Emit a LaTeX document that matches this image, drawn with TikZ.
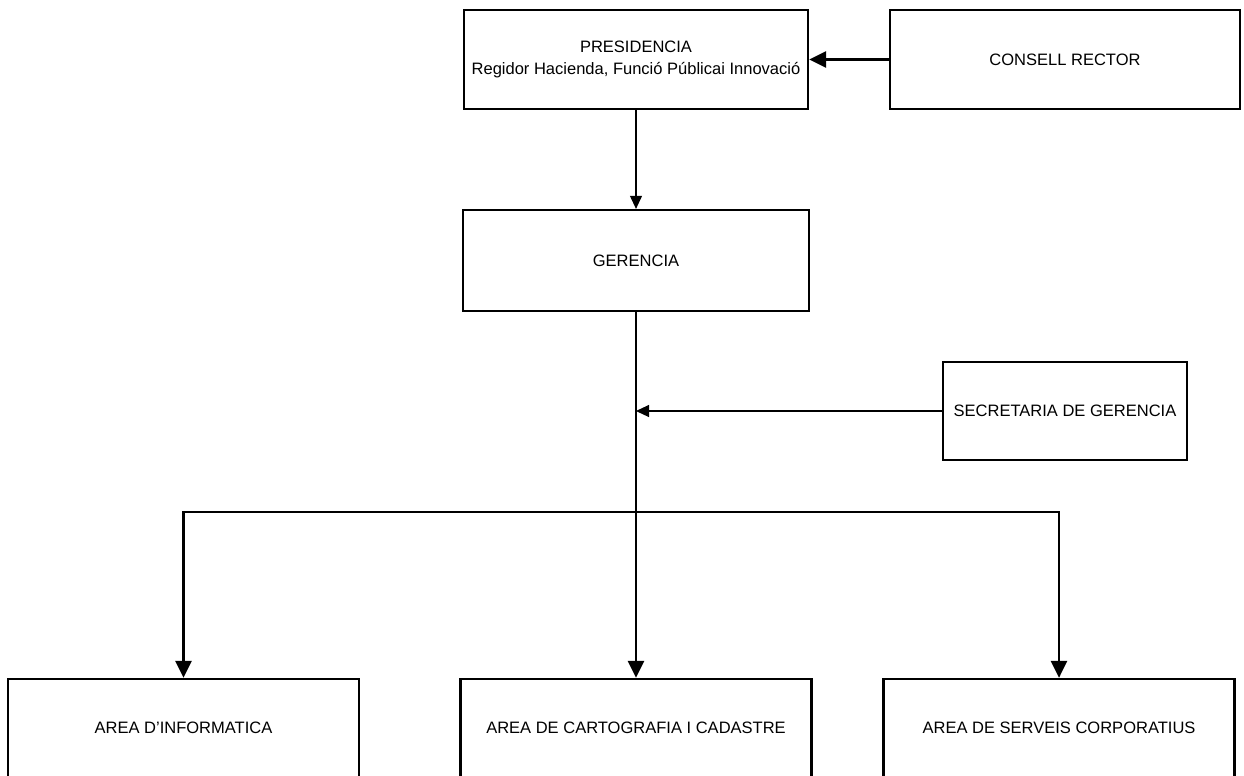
\documentclass[tikz,border=0pt]{standalone}
\usepackage{fontspec}
\setmainfont{Liberation Sans}
\usetikzlibrary{arrows.meta}
\tikzstyle{every node}=[font=\fontsize{9.4}{12.5}\selectfont]
\tikzstyle{box}=[draw, line width=1.3pt, align=center, inner sep=0pt]
\tikzstyle{heavy}=[line width=1.6pt, -{Triangle[length=0.34cm, width=0.32cm]}]
\tikzstyle{light}=[line width=0.6pt, -{Triangle[length=0.26cm, width=0.24cm]}]

\begin{document}
\begin{tikzpicture}[x=0.02cm, y=-0.02cm]
    \useasboundingbox (0,0) rectangle (1244,775);
% Boxes
    \node[box, minimum width=6.88cm, minimum height=1.98cm] (pres) at (636,59.5)
        {PRESIDENCIA\\Regidor Hacienda, Funció Públicai Innovació};
    \node[box, minimum width=7.0cm, minimum height=1.98cm] (consell) at (1065,59.5) {CONSELL RECTOR};
    \node[box, minimum width=6.92cm, minimum height=2.02cm] (ger) at (636,260.5) {GERENCIA};
    \node[box, minimum width=4.88cm, minimum height=1.96cm] (sec) at (1065,411) {SECRETARIA DE GERENCIA};
    \node[box, minimum width=7.02cm, minimum height=1.96cm] (info) at (183.5,728) {AREA D’INFORMATICA};
    \node[box, minimum width=7.02cm, minimum height=1.96cm] (carto) at (636,728) {AREA DE CARTOGRAFIA I CADASTRE};
    \node[box, minimum width=7.02cm, minimum height=1.96cm] (serv) at (1059,728) {AREA DE SERVEIS CORPORATIUS};
% Junctions
    \coordinate (join) at (ger.south |- sec.west);
    \coordinate (split) at (636,512);
% Arrows
    \draw[heavy] (consell.west) -- (pres.east);
    \draw[light] (pres.south) -- (ger.north);
    \draw[heavy] (ger.south) -- (carto.north);
    \draw[light] (sec.west) -- (join);
    \draw[heavy] (split) -| (info.north);
    \draw[heavy] (split) -| (serv.north);
\end{tikzpicture}
\end{document}
